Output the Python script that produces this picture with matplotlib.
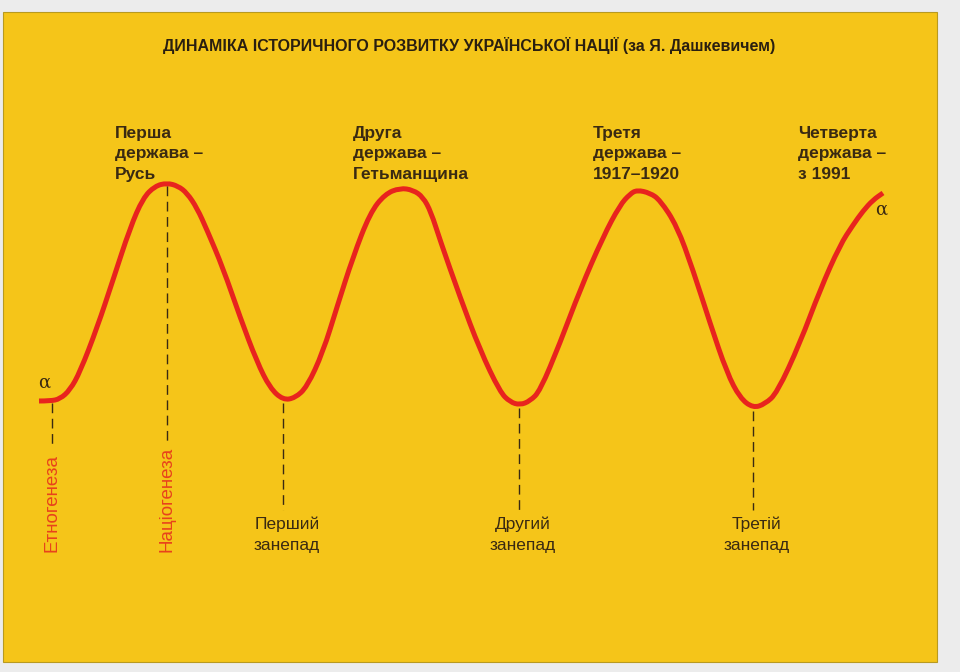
import matplotlib.pyplot as plt
from matplotlib.patches import Rectangle, PathPatch
from matplotlib.path import Path

# curve (x to the right, y downward as in the image)
curve_x = [39, 50, 60, 70, 80, 97, 113, 130, 143, 155, 167, 178, 187, 197, 207, 223, 240,
           257, 270, 283, 295, 307, 323, 337, 353, 370, 385, 400, 413, 423, 431, 440, 460,
           480, 500, 510, 520, 530, 540, 560, 580, 603, 620, 630, 637, 650, 660, 677, 693,
           710, 727, 740, 753, 765, 777, 800, 820, 840, 853, 863, 873, 883]
curve_y = [401, 401, 399, 390, 372, 328, 280, 228, 198, 186, 183, 186, 193, 208, 230, 268, 317,
           362, 388, 400, 398, 387, 352, 307, 257, 213, 194, 188, 190, 197, 212, 240, 297,
           350, 392, 402, 405, 401, 391, 343, 290, 237, 205, 194, 190, 193, 200, 226, 270,
           323, 373, 398, 408, 404, 393, 343, 290, 245, 225, 211, 200, 193]

# dashed guide lines
guide_x = [52, 167, 283, 519, 753]
guide_top = [403, 186, 403, 408, 411]
guide_bottom = [445, 445, 510, 510, 510]

# rotated red labels at the bottom
genesis_x = [52, 167]
genesis_labels = ['Етногенеза', 'Націогенеза']

# decline labels
decline_x = [287, 523, 757]
decline_labels = ['Перший\nзанепад', 'Другий\nзанепад', 'Третій\nзанепад']

# state labels at the peaks
state_x = [115, 353, 593, 798]
state_labels = ['Перша\nдержава –\nРусь', 'Друга\nдержава –\nГетьманщина',
                'Третя\nдержава –\n1917–1920', 'Четверта\nдержава –\nз 1991']

title = 'ДИНАМІКА ІСТОРИЧНОГО РОЗВИТКУ УКРАЇНСЬКОЇ НАЦІЇ (за Я. Дашкевичем)'

yellow = '#F5C519'
red = '#E8231E'
dark = '#3a2a12'

fig = plt.figure(figsize=(9.6, 6.72), dpi=100, facecolor='#ececec')
ax = fig.add_axes([0, 0, 1, 1])
ax.set_xlim(0, 960)
ax.set_ylim(672, 0)
ax.axis('off')

ax.add_patch(Rectangle((3, 12), 934, 650, facecolor=yellow, edgecolor='#b89a20', linewidth=0.8))

ax.text(469, 46, title, ha='center', va='center', fontsize=11.5, fontweight='bold',
        color='#2a1f10', family='Liberation Sans')

ax.vlines(guide_x, guide_top, guide_bottom, colors=dark, linestyles=(0, (7, 4)), linewidth=1)

# smooth the read points: quadratic segments through the midpoints
pts = list(zip(curve_x, curve_y))
verts = [pts[0]]
codes = [Path.MOVETO]
for i in range(1, len(pts) - 1):
    mid = ((pts[i][0] + pts[i + 1][0]) / 2, (pts[i][1] + pts[i + 1][1]) / 2)
    verts += [pts[i], mid]
    codes += [Path.CURVE3, Path.CURVE3]
verts.append(pts[-1])
codes.append(Path.LINETO)
ax.add_patch(PathPatch(Path(verts, codes), facecolor='none', edgecolor=red, linewidth=3.6,
                       joinstyle='round', capstyle='butt'))

for x, s in zip(genesis_x, genesis_labels):
    ax.text(x, 552, s, rotation=90, ha='center', va='bottom', fontsize=13.5,
            color='#E8421C', family='Liberation Sans')

for x, s in zip(decline_x, decline_labels):
    ax.text(x, 516, s, ha='center', va='top', fontsize=12.5, color=dark,
            family='Liberation Sans', linespacing=1.55)

for x, s in zip(state_x, state_labels):
    ax.text(x, 126, s, ha='left', va='top', fontsize=12.5, fontweight='bold', color=dark,
            family='Liberation Sans', linespacing=1.45)

ax.text(44, 383, 'α', ha='center', va='center', fontsize=13, color=dark, family='DejaVu Serif')
ax.text(881, 210, 'α', ha='center', va='center', fontsize=13, color=dark, family='DejaVu Serif')

fig.savefig('out.png', dpi=100, facecolor=fig.get_facecolor())
